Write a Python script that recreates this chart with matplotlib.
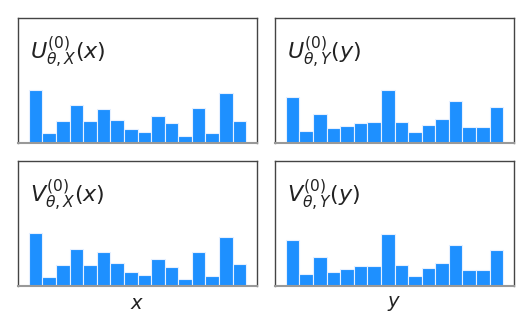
import matplotlib
matplotlib.use("Agg")
import matplotlib.pyplot as plt
import numpy as np

# bar heights (16 bins each)
u_x = [160, 29, 65, 114, 65, 103, 69, 43, 33, 82, 59, 22, 105, 30, 150, 67]
u_y = [140, 37, 87, 44, 52, 61, 62, 159, 63, 32, 54, 72, 127, 49, 48, 109]
v_x = [159, 27, 64, 112, 64, 102, 68, 41, 32, 81, 58, 20, 103, 29, 149, 66]
v_y = [139, 36, 86, 42, 51, 60, 61, 158, 62, 31, 53, 69, 125, 49, 47, 108]

titles = [r"$U^{(0)}_{\theta,X}(x)$", r"$U^{(0)}_{\theta,Y}(y)$",
          r"$V^{(0)}_{\theta,X}(x)$", r"$V^{(0)}_{\theta,Y}(y)$"]
series = [u_x, u_y, v_x, v_y]
xlabels = ["", "", r"$x$", r"$y$"]

fig = plt.figure(figsize=(5.32, 3.32), dpi=100)
rects = [(18, 18), (275, 18), (18, 161), (275, 161)]
W, H = 532, 332
for (x0, y0), vals, title, xl in zip(rects, series, titles, xlabels):
    ax = fig.add_axes([x0 / W, 1 - (y0 + 125) / H, 239 / W, 125 / H])
    bins = np.arange(len(vals))
    ax.bar(bins, vals, width=1.0, color="#1E90FF", edgecolor="#e6f0ff", linewidth=0.8)
    ax.set_ylim(0, 377)
    ax.set_xticks([])
    ax.set_yticks([])
    for s in ["top", "left", "right"]:
        ax.spines[s].set_color("#444444")
        ax.spines[s].set_linewidth(1.0)
    ax.spines["bottom"].set_color("#999999")
    ax.spines["bottom"].set_linewidth(1.5)
    ax.text(0.05, 0.87, title, transform=ax.transAxes, fontsize=16,
            va="top", ha="left", color="#222222")
    if xl:
        ax.set_xlabel(xl, fontsize=14, labelpad=6, color="#222222")

fig.savefig("out.png", dpi=100)
